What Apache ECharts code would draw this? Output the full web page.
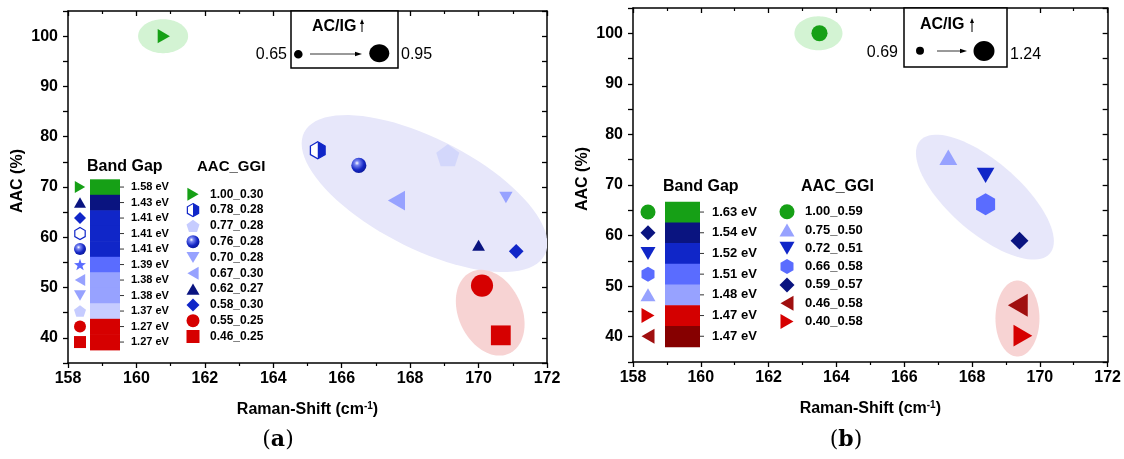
<!DOCTYPE html>
<html><head><meta charset="utf-8">
<script src="https://cdn.jsdelivr.net/npm/echarts@6/dist/echarts.min.js"></script>
<style>html,body{margin:0;padding:0;background:#fff}#c{width:1124px;height:459px}</style>
</head><body><div id="c"></div>
<script>
// ================= DATA =================
const xRange = [158, 172];
const yRange = [35, 105];

// panel (a)
const groupsA = ['1.00_0.30','0.78_0.28','0.77_0.28','0.76_0.28','0.70_0.28','0.67_0.30','0.62_0.27','0.58_0.30','0.55_0.25','0.46_0.25'];
const ramanA  = [160.8, 165.3, 169.1, 166.5, 170.8, 167.6, 170.0, 171.1, 170.1, 170.65];
const aacA    = [100, 77.3, 76.3, 74.3, 67.9, 67.3, 58.4, 57.2, 50.4, 40.5];
const acigA   = [0.74, 0.80, 0.93, 0.76, 0.72, 0.86, 0.71, 0.75, 0.91, 0.86];
const acigRangeA = [0.65, 0.95];
const bandGapA = ['1.58 eV','1.43 eV','1.41 eV','1.41 eV','1.41 eV','1.39 eV','1.38 eV','1.38 eV','1.37 eV','1.27 eV','1.27 eV'];

// panel (b)
const groupsB = ['1.00_0.59','0.75_0.50','0.72_0.51','0.66_0.58','0.59_0.57','0.46_0.58','0.40_0.58'];
const ramanB  = [163.5, 167.3, 168.4, 168.4, 169.4, 169.35, 169.5];
const aacB    = [100, 75.5, 71.9, 66.2, 59.0, 46.2, 40.2];
const acigB   = [0.93, 1.00, 0.99, 1.16, 1.00, 1.20, 1.15];
const acigRangeB = [0.69, 1.24];
const bandGapB = ['1.63 eV','1.54 eV','1.52 eV','1.51 eV','1.48 eV','1.47 eV','1.47 eV'];

// ================= STYLES =================
const FONT = '"Liberation Sans", Arial, sans-serif';
const COL = {green:'#16a016', navy:'#0a1480', blue:'#1026c8', mid:'#5a6cff', light:'#97a2ff', pale:'#c6ccff', red:'#d60000', dred:'#860000', dred2:'#a00f0f'};
const SPHERE = {type:'radial', x:0.38, y:0.35, r:0.7, colorStops:[{offset:0,color:'#ffffff'},{offset:0.22,color:'#7784f2'},{offset:0.65,color:'#1426c4'},{offset:1,color:'#0b1896'}]};

const SYMPTS = {
  triR: [[-8,-10],[9.3,0],[-8,10]],
  triL: [[8,-10],[-9.3,0],[8,10]],
  triU: [[0,-9.3],[10,8],[-10,8]],
  triD: [[0,9.3],[10,-8],[-10,-8]],
  diamond: [[0,-10],[10,0],[0,10],[-10,0]],
  hex: [[0,-10],[8.66,-5],[8.66,5],[0,10],[-8.66,5],[-8.66,-5]],
  pent: [[0,-10],[9.51,-3.09],[5.88,8.09],[-5.88,8.09],[-9.51,-3.09]],
  star: [[0,-10],[2.35,-3.24],[9.51,-3.09],[3.8,1.24],[5.88,8.09],[0,4],[-5.88,8.09],[-3.8,1.24],[-9.51,-3.09],[-2.35,-3.24]],
  square: [[-10,-10],[10,-10],[10,10],[-10,10]]
};
const HEXHALF = [[0,-10],[8.66,-5],[8.66,5],[0,10]];
function symPath(sym){
  if (sym === 'circle') return 'circle';
  if (sym === 'square') return 'rect';
  return 'path://M' + SYMPTS[sym].map(p => p.join(',')).join(' L') + ' Z';
}
const HEXHALF_PATH = 'path://M-8.66,-10 M' + HEXHALF.map(p => p.join(',')).join(' L') + ' Z';

const styleA = [
  {sym:'triR', color:COL.green},
  {sym:'hex', color:'#ffffff', border:COL.blue, half:true},
  {sym:'pent', color:'#d3d7fb'},
  {sym:'circle', color:SPHERE},
  {sym:'triD', color:COL.light},
  {sym:'triL', color:COL.light},
  {sym:'triU', color:COL.navy},
  {sym:'diamond', color:COL.blue},
  {sym:'circle', color:COL.red},
  {sym:'square', color:COL.red}
];
const styleB = [
  {sym:'circle', color:COL.green},
  {sym:'triU', color:COL.light},
  {sym:'triD', color:COL.blue},
  {sym:'hex', color:COL.mid},
  {sym:'diamond', color:COL.navy},
  {sym:'triL', color:COL.dred2},
  {sym:'triR', color:COL.red}
];
const bandIconsA = [
  {sym:'triR', color:COL.green},{sym:'triU', color:COL.navy},{sym:'diamond', color:COL.blue},
  {sym:'hex', color:'#ffffff', border:COL.blue},{sym:'circle', color:SPHERE},{sym:'star', color:COL.mid},
  {sym:'triL', color:COL.light},{sym:'triD', color:COL.light},{sym:'pent', color:COL.pale},
  {sym:'circle', color:COL.red},{sym:'square', color:COL.red}
];
const bandColorsA = [COL.green, COL.navy, COL.blue, COL.blue, COL.blue, COL.mid, COL.light, COL.light, COL.pale, COL.red, COL.red];
const bandIconsB = [
  {sym:'circle', color:COL.green},{sym:'diamond', color:COL.navy},{sym:'triD', color:COL.blue},
  {sym:'hex', color:COL.mid},{sym:'triU', color:COL.light},{sym:'triR', color:COL.red},{sym:'triL', color:COL.dred2}
];
const bandColorsB = [COL.green, COL.navy, COL.blue, COL.mid, COL.light, '#d40000', COL.dred];

const ellipsesA = [
  {cx:168.42, cy:68.7, rx:135, ry:55, angle:27, color:'#e7e7fa'},
  {cx:170.34, cy:45.0, rx:45, ry:31.6, angle:65, color:'#f7d3d3'},
  {cx:160.78, cy:100, rx:25, ry:17, angle:0, color:'#d3f3d3'}
];
const ellipsesB = [
  {cx:168.38, cy:67.6, rx:86, ry:35.5, angle:41, color:'#e7e7fa'},
  {cx:169.34, cy:43.6, rx:22, ry:38, angle:0, color:'#f7d3d3'},
  {cx:163.47, cy:100, rx:24, ry:17, angle:0, color:'#d3f3d3'}
];

const LAYOUT = {
  A: {grid:{left:68, top:11, width:479, height:352},
      band:{titleX:87, titleY:167, titleSize:16, iconX:80, barX:90, barW:30, top:179.3, rowH:15.5, iconS:12, labelX:131, fontSize:11},
      aac:{titleX:197, titleY:167, titleSize:15, iconX:193, textX:210, top:194.3, rowH:15.8, iconS:13, fontSize:12},
      box:{x:291, y:11, w:107, h:57, tX:312, tY:27, upX:362, upY0:32, upY1:19, sd:[298.3,54.3,4.3], bd:[379.3,53.3,10,9], arr:[310,362,54], lo:'0.65', hi:'0.95', loX:287, loY:55, hiX:401, hiY:55},
      tag:{x:278, y:440, t:'a'}},
  B: {grid:{left:633, top:8, width:476, height:354},
      band:{titleX:663, titleY:187, titleSize:16, iconX:648, barX:665, barW:35, top:201.7, rowH:20.7, iconS:15, labelX:712, fontSize:13},
      aac:{titleX:801, titleY:187, titleSize:16, iconX:787, textX:805, top:211.7, rowH:18.3, iconS:15, fontSize:13},
      box:{x:904, y:8, w:103, h:59, tX:920, tY:25, upX:972, upY0:32, upY1:18, sd:[920,50.7,4], bd:[984,51,10.5,10], arr:[937,967,51], lo:'0.69', hi:'1.24', loX:898, loY:53, hiX:1010, hiY:55},
      tag:{x:846, y:440, t:'b'}}
};

// ================= BUILD =================
function sizeOf(v, r){ return 10 + (v - r[0]) / (r[1] - r[0]) * 14; }

function axesFor(gi){
  const common = {type:'value', min:xRange[0], max:xRange[1], interval:2, gridIndex:gi,
    axisLine:{show:true, onZero:false, lineStyle:{color:'#000', width:1.5}}, splitLine:{show:false}};
  const xb = Object.assign({}, common, {position:'bottom',
    axisTick:{show:true, length:5, lineStyle:{color:'#000', width:1.3}},
    minorTick:{show:true, splitNumber:2, length:3, lineStyle:{color:'#000', width:1.2}},
    axisLabel:{color:'#000', fontWeight:'bold', fontSize:16, fontFamily:FONT, margin:8},
    name:'{b|Raman-Shift (cm}{s|-1}{b|)}', nameLocation:'middle', nameGap:38,
    nameTextStyle:{rich:{b:{fontSize:16, fontWeight:'bold', fontFamily:FONT, color:'#000', lineHeight:18},
                         s:{fontSize:10, fontWeight:'bold', fontFamily:FONT, color:'#000', verticalAlign:'top', lineHeight:18}}}});
  const xt = Object.assign({}, common, {position:'top',
    axisTick:{show:true, inside:true, length:5, lineStyle:{color:'#000', width:1.3}},
    minorTick:{show:true, splitNumber:2, length:3, lineStyle:{color:'#000', width:1.2}},
    axisLabel:{show:false}});
  const ycommon = {type:'value', min:yRange[0], max:yRange[1], interval:5, gridIndex:gi,
    axisLine:{show:true, onZero:false, lineStyle:{color:'#000', width:1.5}}, splitLine:{show:false}};
  const yl = Object.assign({}, ycommon, {position:'left',
    axisTick:{show:true, length:5, lineStyle:{color:'#000', width:1.3}},
    axisLabel:{color:'#000', fontWeight:'bold', fontSize:16, fontFamily:FONT, margin:10,
      formatter: v => (v % 10 === 0 && v >= 40 && v <= 100) ? String(v) : ''},
    name:'AAC (%)', nameLocation:'middle', nameGap:42,
    nameTextStyle:{fontSize:16, fontWeight:'bold', fontFamily:FONT, color:'#000', padding:[0,0,0,12]}});
  const yr = Object.assign({}, ycommon, {position:'right',
    axisTick:{show:true, inside:true, length:5, lineStyle:{color:'#000', width:1.3}},
    axisLabel:{show:false}});
  return {x:[xb, xt], y:[yl, yr]};
}

function ellipseSeries(gi, ells){
  return {type:'custom', xAxisIndex:gi*2, yAxisIndex:gi*2, clip:true, silent:true, z:1,
    data: ells.map(e => [e.cx, e.cy]),
    renderItem: (params, api) => {
      const e = ells[params.dataIndex];
      const c = api.coord([api.value(0), api.value(1)]);
      const t = e.angle * Math.PI / 180, pts = [];
      for (let k = 0; k < 90; k++) {
        const a = k / 90 * 2 * Math.PI;
        const px = e.rx * Math.cos(a), py = e.ry * Math.sin(a);
        pts.push([c[0] + px * Math.cos(t) - py * Math.sin(t), c[1] + px * Math.sin(t) + py * Math.cos(t)]);
      }
      return {type:'polygon', shape:{points:pts}, style:{fill:e.color}};
    }};
}

function pointSeries(gi, names, xs, ys, acig, range, styles){
  const out = [];
  names.forEach((n, i) => {
    const st = styles[i];
    out.push({type:'scatter', name:n, xAxisIndex:gi*2, yAxisIndex:gi*2, silent:true, z:5,
      data:[[xs[i], ys[i], acig[i]]], symbol:symPath(st.sym), symbolKeepAspect:true,
      symbolSize: v => sizeOf(v[2], range),
      itemStyle:{color:st.color, borderColor:st.border || 'transparent', borderWidth:st.border ? 1.3 : 0, opacity:1}});
    if (st.half) {
      out.push({type:'scatter', name:n, xAxisIndex:gi*2, yAxisIndex:gi*2, silent:true, z:6,
        data:[[xs[i], ys[i], acig[i]]], symbol:HEXHALF_PATH, symbolKeepAspect:true,
        symbolSize: v => sizeOf(v[2], range),
        itemStyle:{color:st.border, opacity:1}});
    }
  });
  return out;
}

// ---- graphic helpers ----
function fitPts(pts, cx, cy, s){
  let minx=Infinity,maxx=-Infinity,miny=Infinity,maxy=-Infinity;
  pts.forEach(p=>{minx=Math.min(minx,p[0]);maxx=Math.max(maxx,p[0]);miny=Math.min(miny,p[1]);maxy=Math.max(maxy,p[1]);});
  const k = s / Math.max(maxx-minx, maxy-miny);
  const mx=(minx+maxx)/2, my=(miny+maxy)/2;
  return pts.map(p=>[cx+(p[0]-mx)*k, cy+(p[1]-my)*k]);
}
function icon(st, cx, cy, s){
  const style = {fill:st.color, stroke:st.border || null, lineWidth:st.border ? 1.2 : 0};
  if (st.sym === 'circle') return [{type:'circle', shape:{cx, cy, r:s/2}, style, z:10}];
  const els = [{type:'polygon', shape:{points:fitPts(SYMPTS[st.sym], cx, cy, s)}, style, z:10}];
  if (st.half) {
    const k = s / 20;
    els.push({type:'polygon', shape:{points:HEXHALF.map(p=>[cx+p[0]*k, cy+p[1]*k])}, style:{fill:st.border}, z:11});
  }
  return els;
}
function txt(t, x, y, size, opts){
  opts = opts || {};
  return {type:'text', x, y, z:12, style:{text:t, font:(opts.weight||'bold')+' '+size+'px '+FONT, fill:'#000',
    align:opts.align||'left', verticalAlign:'middle', textAlign:opts.align||'left', textVerticalAlign:'middle'}};
}
function legendGraphics(L, bandLabels, bandColors, bandIcons, groups, styles){
  const g = [];
  const b = L.band;
  g.push(txt('Band Gap', b.titleX, b.titleY, b.titleSize));
  bandLabels.forEach((lab, i) => {
    const y0 = b.top + i * b.rowH, cy = y0 + b.rowH / 2;
    g.push({type:'rect', shape:{x:b.barX, y:y0, width:b.barW, height:b.rowH + 0.6}, style:{fill:bandColors[i]}, z:9});
    g.push({type:'line', shape:{x1:b.barX + b.barW, y1:cy, x2:b.barX + b.barW + 4, y2:cy}, style:{stroke:'#333', lineWidth:1}, z:9});
    g.push(txt(lab, b.labelX, cy, b.fontSize));
    g.push(...icon(bandIcons[i], b.iconX, cy, b.iconS));
  });
  const a = L.aac;
  g.push(txt('AAC_GGI', a.titleX, a.titleY, a.titleSize));
  groups.forEach((n, i) => {
    const cy = a.top + i * a.rowH;
    const st = Object.assign({}, styles[i]);
    if (st.sym === 'pent') st.color = COL.pale;
    g.push(...icon(st, a.iconX, cy, a.iconS));
    g.push(txt(n, a.textX, cy, a.fontSize));
  });
  // AC/IG size key
  const k = L.box;
  g.push({type:'rect', shape:{x:k.x, y:k.y, width:k.w, height:k.h}, style:{fill:'#fff', stroke:'#000', lineWidth:1.5}, z:9});
  g.push(txt('AC/IG', k.tX, k.tY, 16));
  g.push({type:'line', shape:{x1:k.upX, y1:k.upY0, x2:k.upX, y2:k.upY1 + 4}, style:{stroke:'#000', lineWidth:1}, z:10});
  g.push({type:'polygon', shape:{points:[[k.upX, k.upY1],[k.upX-2,k.upY1+5],[k.upX+2,k.upY1+5]]}, style:{fill:'#000'}, z:10});
  g.push({type:'circle', shape:{cx:k.sd[0], cy:k.sd[1], r:k.sd[2]}, style:{fill:'#000'}, z:10});
  g.push({type:'ellipse', shape:{cx:k.bd[0], cy:k.bd[1], rx:k.bd[2], ry:k.bd[3]}, style:{fill:'#000'}, z:10});
  g.push({type:'line', shape:{x1:k.arr[0], y1:k.arr[2], x2:k.arr[1]-5, y2:k.arr[2]}, style:{stroke:'#000', lineWidth:0.8}, z:10});
  g.push({type:'polygon', shape:{points:[[k.arr[1], k.arr[2]],[k.arr[1]-7,k.arr[2]-2.2],[k.arr[1]-7,k.arr[2]+2.2]]}, style:{fill:'#000'}, z:10});
  g.push(txt(k.lo, k.loX, k.loY, 16, {weight:'normal', align:'right'}));
  g.push(txt(k.hi, k.hiX, k.hiY, 16, {weight:'normal'}));
  // panel tag
  const t = L.tag;
  g.push({type:'text', x:t.x, y:t.y, z:12, style:{text:'{p|(}{b|'+t.t+'}{p|)}', align:'center', verticalAlign:'middle', textAlign:'center', textVerticalAlign:'middle',
    rich:{p:{font:'22px "DejaVu Serif", serif', fill:'#000'}, b:{font:'bold 22px "DejaVu Serif", serif', fill:'#000'}}}});
  return g;
}

const axA = axesFor(0), axB = axesFor(1);
const option = {
  animation:false,
  backgroundColor:'#fff',
  grid:[Object.assign({containLabel:false}, LAYOUT.A.grid), Object.assign({containLabel:false}, LAYOUT.B.grid)],
  xAxis:[...axA.x, ...axB.x],
  yAxis:[...axA.y, ...axB.y],
  series:[
    ellipseSeries(0, ellipsesA), ellipseSeries(1, ellipsesB),
    ...pointSeries(0, groupsA, ramanA, aacA, acigA, acigRangeA, styleA),
    ...pointSeries(1, groupsB, ramanB, aacB, acigB, acigRangeB, styleB)
  ],
  graphic:[
    ...legendGraphics(LAYOUT.A, bandGapA, bandColorsA, bandIconsA, groupsA, styleA),
    ...legendGraphics(LAYOUT.B, bandGapB, bandColorsB, bandIconsB, groupsB, styleB)
  ]
};
const chart = echarts.init(document.getElementById('c'), null, {renderer:'canvas'});
chart.setOption(option);
</script>
</body></html>
